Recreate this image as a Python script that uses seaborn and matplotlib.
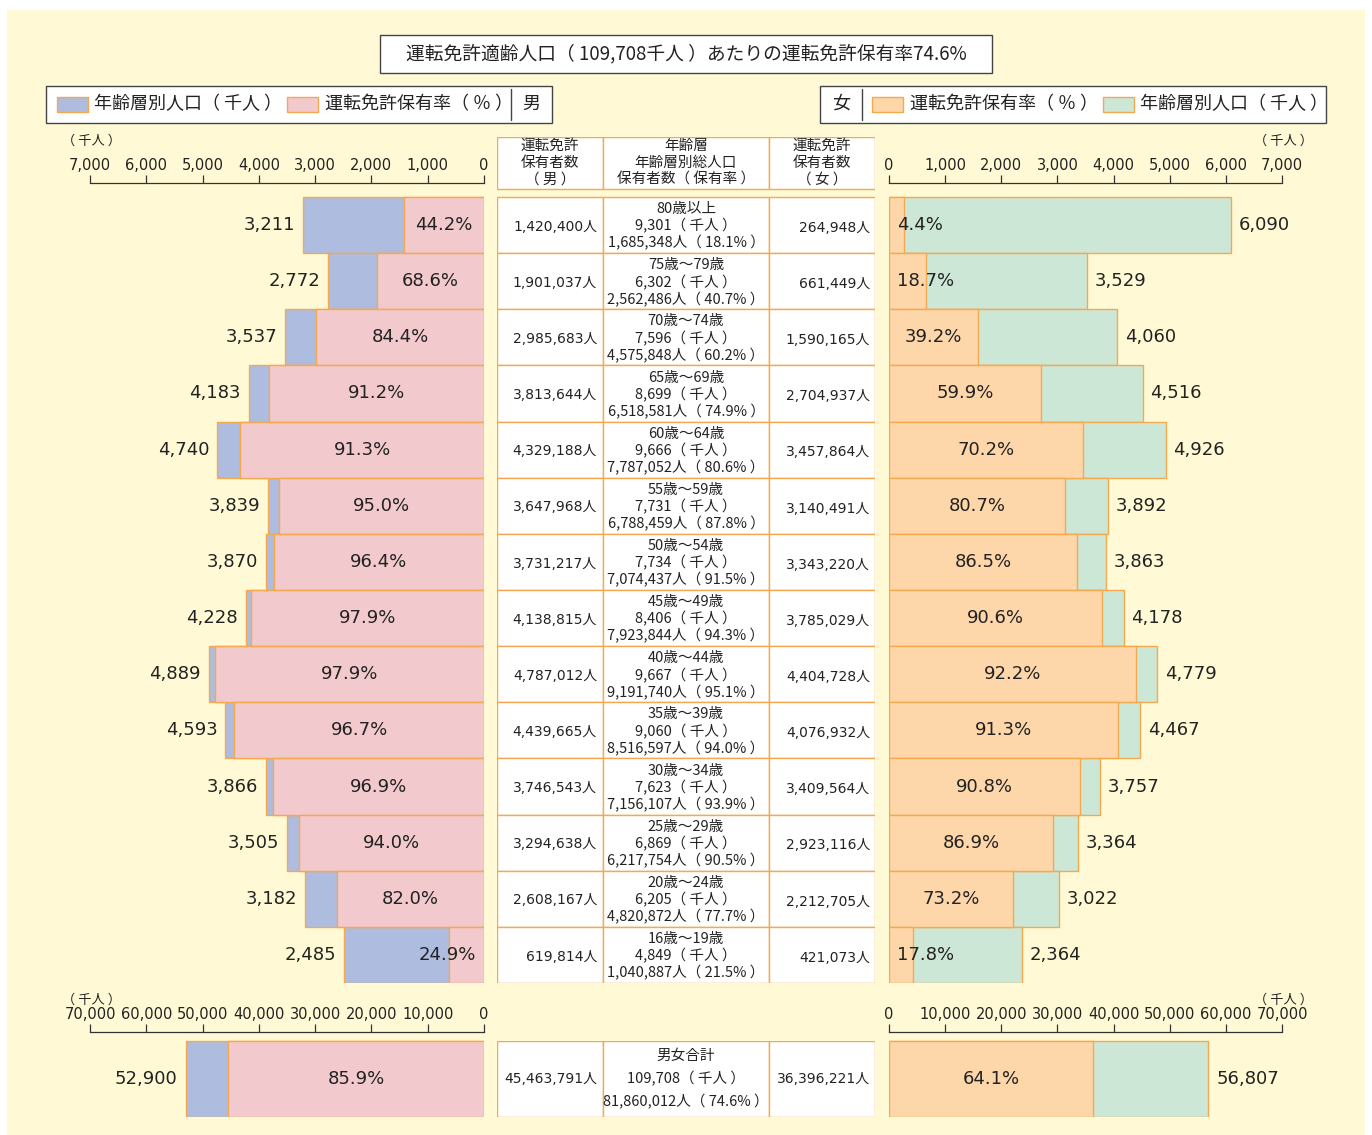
import matplotlib
matplotlib.use('Agg')
import matplotlib.pyplot as plt
import matplotlib.transforms as mtrans
from matplotlib.patches import Rectangle
from matplotlib.lines import Line2D
import pandas as pd
import seaborn as sns

# ---- data -------------------------------------------------------------
ages = ['80歳以上', '75歳～79歳', '70歳～74歳', '65歳～69歳', '60歳～64歳',
        '55歳～59歳', '50歳～54歳', '45歳～49歳', '40歳～44歳', '35歳～39歳',
        '30歳～34歳', '25歳～29歳', '20歳～24歳', '16歳～19歳']

male_pop = [3211, 2772, 3537, 4183, 4740, 3839, 3870, 4228, 4889, 4593, 3866, 3505, 3182, 2485]
male_rate = [44.2, 68.6, 84.4, 91.2, 91.3, 95.0, 96.4, 97.9, 97.9, 96.7, 96.9, 94.0, 82.0, 24.9]
male_holders = [1420400, 1901037, 2985683, 3813644, 4329188, 3647968, 3731217,
                4138815, 4787012, 4439665, 3746543, 3294638, 2608167, 619814]

female_pop = [6090, 3529, 4060, 4516, 4926, 3892, 3863, 4178, 4779, 4467, 3757, 3364, 3022, 2364]
female_rate = [4.4, 18.7, 39.2, 59.9, 70.2, 80.7, 86.5, 90.6, 92.2, 91.3, 90.8, 86.9, 73.2, 17.8]
female_holders = [264948, 661449, 1590165, 2704937, 3457864, 3140491, 3343220,
                  3785029, 4404728, 4076932, 3409564, 2923116, 2212705, 421073]

total_pop = [9301, 6302, 7596, 8699, 9666, 7731, 7734, 8406, 9667, 9060, 7623, 6869, 6205, 4849]
total_holders = [1685348, 2562486, 4575848, 6518581, 7787052, 6788459, 7074437,
                 7923844, 9191740, 8516597, 7156107, 6217754, 4820872, 1040887]
total_rate = [18.1, 40.7, 60.2, 74.9, 80.6, 87.8, 91.5, 94.3, 95.1, 94.0, 93.9, 90.5, 77.7, 21.5]

male_sum = {'pop': 52900, 'rate': 85.9, 'holders': 45463791}
female_sum = {'pop': 56807, 'rate': 64.1, 'holders': 36396221}
all_pop, all_holders, all_rate = 109708, 81860012, 74.6

# ---- style --------------------------------------------------------------
BG = '#FFFAD5'
BLUE = '#AEBCE0'
PINK = '#F2C9CC'
ORANGE = '#FDD6A9'
GREEN = '#CDE7D6'
EDGE = '#F4A950'
FRAME = '#444444'
TXT = '#222222'

sns.set_theme(style='white')
plt.rcParams['font.family'] = ['DejaVu Sans', 'Noto Sans CJK JP']
plt.rcParams['text.color'] = TXT
JP = ['Noto Sans CJK JP', 'DejaVu Sans']


def wide(s):
    # the full-width brackets render narrow, pad the inside like the original
    return s.replace('（', '（ ').replace('）', ' ）')


W, H = 1372, 1135
fig = plt.figure(figsize=(W / 100, H / 100), dpi=100)
fig.patch.set_facecolor('white')
# pixel coordinates, origin top-left
px = mtrans.Affine2D().scale(1 / W, -1 / H).translate(0, 1) + fig.transFigure

fig.add_artist(Rectangle((7, 10), 1358, 1125, transform=px, fc=BG, ec='none', zorder=0))


def add_ax(x0, y0, x1, y1):
    ax = fig.add_axes([x0 / W, 1 - y1 / H, (x1 - x0) / W, (y1 - y0) / H])
    ax.patch.set_alpha(0)
    return ax


def box(x, y, w, h):
    fig.add_artist(Rectangle((x, y), w, h, transform=px, fc='white', ec=FRAME, lw=1.0, zorder=1))


def swatch(x, y, color):
    fig.add_artist(Rectangle((x, y), 31, 15, transform=px, fc=color, ec=EDGE, lw=1.0, zorder=2))


def ftext(x, y, s, size=13, ha='left'):
    fig.text(x, y, wide(s), transform=px, fontsize=size, ha=ha, va='center', color=TXT,
             family=JP, zorder=3)


# title
box(380, 35, 612, 38)
ftext(686, 54, '運転免許適齢人口（109,708千人）あたりの運転免許保有率74.6%', size=13.5, ha='center')

# legends
box(46, 86, 506, 37)
swatch(57, 97, BLUE)
ftext(94, 104, '年齢層別人口（千人）')
swatch(287, 97, PINK)
ftext(325, 104, '運転免許保有率（％）')
fig.add_artist(Line2D([511, 511], [89, 120], transform=px, color=FRAME, lw=1, zorder=2))
ftext(531, 104, '男', ha='center')

box(820, 86, 506, 37)
ftext(841, 104, '女', ha='center')
fig.add_artist(Line2D([862, 862], [89, 120], transform=px, color=FRAME, lw=1, zorder=2))
swatch(872, 97, ORANGE)
ftext(910, 104, '運転免許保有率（％）')
swatch(1103, 97, GREEN)
ftext(1140, 104, '年齢層別人口（千人）')

# unit labels
for ux, uy in [(92, 141), (1283, 141), (92, 1000), (1283, 1000)]:
    ftext(ux, uy, '（千人）', size=9.5, ha='center')


def style_axis(ax, xmax, step, left):
    ax.set_xlim((xmax, 0) if left else (0, xmax))
    ax.xaxis.tick_top()
    ticks = list(range(0, xmax + 1, step))
    ax.set_xticks(ticks)
    ax.set_xticklabels([f'{t:,}' for t in ticks])
    ax.tick_params(axis='x', top=True, bottom=False, direction='out', length=6, width=0.9,
                   color='#333333', labelsize=10.5, labelcolor=TXT, pad=1.5)
    ax.tick_params(axis='y', left=False, labelleft=False)
    ax.set_xlabel('')
    ax.set_ylabel('')
    for s in ['left', 'right', 'bottom']:
        ax.spines[s].set_visible(False)
    ax.spines['top'].set_color('#333333')
    ax.spines['top'].set_linewidth(0.9)


def pyramid(ax, cats, pop, holders, rate, base, over, left, xmax, step, off, small):
    hold_k = [h / 1000 for h in holders]
    df = pd.DataFrame({'cat': cats, 'pop': pop, 'hold': hold_k})
    sns.barplot(data=df, x='pop', y='cat', color=base, saturation=1, width=1, errorbar=None,
                edgecolor=EDGE, linewidth=1, ax=ax)
    sns.barplot(data=df, x='hold', y='cat', color=over, saturation=1, width=1, errorbar=None,
                edgecolor=EDGE, linewidth=1, ax=ax)
    side = 'right' if left else 'left'
    for i in range(len(cats)):
        ax.text(pop[i] + off, i, f'{pop[i]:,}', ha=side, va='center', fontsize=13, color=TXT)
        if hold_k[i] >= small:
            ax.text(hold_k[i] / 2, i, f'{rate[i]:.1f}%', ha='center', va='center',
                    fontsize=13, color=TXT)
        else:
            ax.text(off, i, f'{rate[i]:.1f}%', ha=side, va='center', fontsize=13, color=TXT)
    style_axis(ax, xmax, step, left)


row_px = (983 - 197) / len(ages)
top_gap = (197 - 183) / row_px

# upper pyramid
axl = add_ax(90, 183, 484, 983)
pyramid(axl, ages, male_pop, male_holders, male_rate, BLUE, PINK, True, 7000, 1000, 140, 1300)
axl.set_ylim(len(ages) - 0.5, -0.5 - top_gap)

axr = add_ax(889, 183, 1282, 983)
pyramid(axr, ages, female_pop, female_holders, female_rate, GREEN, ORANGE, False, 7000, 1000, 140, 1300)
axr.set_ylim(len(ages) - 0.5, -0.5 - top_gap)

# totals
bot_gap = (1041 - 1032) / (1117 - 1041)
axbl = add_ax(90, 1032, 484, 1117)
pyramid(axbl, ['男'], [male_sum['pop']], [male_sum['holders']], [male_sum['rate']],
        BLUE, PINK, True, 70000, 10000, 1500, 13000)
axbl.set_ylim(0.5, -0.5 - bot_gap)

axbr = add_ax(889, 1032, 1282, 1117)
pyramid(axbr, ['女'], [female_sum['pop']], [female_sum['holders']], [female_sum['rate']],
        GREEN, ORANGE, False, 70000, 10000, 1500, 13000)
axbr.set_ylim(0.5, -0.5 - bot_gap)

# ---- centre table ----------------------------------------------------------
col_left = [0, 106, 272]
col_w = [106, 166, 106]
TS = 10
JS = 10.5


def table_axes(ax, ylim):
    ax.set_xlim(0, 378)
    ax.set_ylim(*ylim)
    ax.axis('off')


def cells(ax, y, h):
    for cl, cw in zip(col_left, col_w):
        ax.barh(y, cw, left=cl, height=h, color='white', edgecolor=EDGE, linewidth=1)


def jtext(ax, x, y, s):
    ax.text(x, y, wide(s), ha='center', va='center', fontsize=JS, family=JP)


axc = add_ax(497, 137, 875, 983)
head_top = -0.5 - (197 - 137) / row_px
head_bot = -0.5 - (197 - 189) / row_px
table_axes(axc, (len(ages) - 0.5, head_top))

hc = (head_top + head_bot) / 2
cells(axc, hc, head_bot - head_top)
ls = 17 / row_px
for k, (a, b, c) in enumerate([('運転免許', '年齢層', '運転免許'),
                               ('保有者数', '年齢層別総人口', '保有者数'),
                               ('（男）', '保有者数（保有率）', '（女）')]):
    yy = hc + (k - 1) * ls
    jtext(axc, 53, yy, a)
    jtext(axc, 189, yy, b)
    jtext(axc, 325, yy, c)

for i in range(len(ages)):
    cells(axc, i, 1)
    axc.text(100, i + 0.03, f'{male_holders[i]:,}人', ha='right', va='center', fontsize=TS)
    axc.text(373, i + 0.05, f'{female_holders[i]:,}人', ha='right', va='center', fontsize=TS)
    jtext(axc, 189, i - ls + 0.02, ages[i])
    jtext(axc, 189, i + 0.02, f'{total_pop[i]:,}（千人）')
    jtext(axc, 189, i + ls + 0.02, f'{total_holders[i]:,}人（{total_rate[i]:.1f}%）')

axcb = add_ax(497, 1041, 875, 1117)
table_axes(axcb, (0.5, -0.5))
cells(axcb, 0, 1)
bl = 23 / 76
axcb.text(100, 0, f"{male_sum['holders']:,}人", ha='right', va='center', fontsize=TS)
axcb.text(373, 0, f"{female_sum['holders']:,}人", ha='right', va='center', fontsize=TS)
jtext(axcb, 189, -bl, '男女合計')
jtext(axcb, 189, 0, f'{all_pop:,}（千人）')
jtext(axcb, 189, bl, f'{all_holders:,}人（{all_rate:.1f}%）')

fig.savefig('out.png', dpi=100, facecolor=fig.get_facecolor())
plt.close(fig)
